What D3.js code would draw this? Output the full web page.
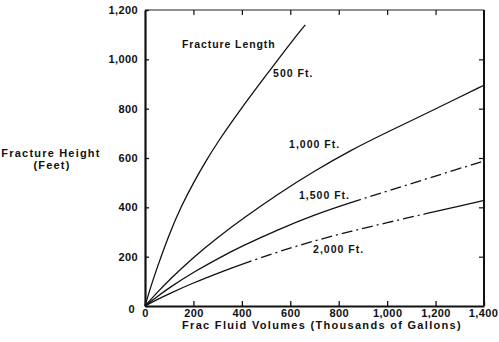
<!DOCTYPE html>
<html><head><meta charset="utf-8">
<script src="https://cdn.jsdelivr.net/npm/d3@7"></script>
<style>
html,body{margin:0;padding:0;background:#fff;}
svg text{font-family:"Liberation Sans",Arial,sans-serif;font-weight:bold;fill:#111;}
</style></head>
<body><svg id="c" width="499" height="342"></svg>
<script>
// ---- data ----
const xTicks = [0, 200, 400, 600, 800, 1000, 1200, 1400];
const yTicks = [0, 200, 400, 600, 800, 1000, 1200];
const seriesNames = ["500 Ft.", "1,000 Ft.", "1,500 Ft.", "2,000 Ft."];
const volumes500 = [0, 25, 50, 100, 150, 200, 250, 300, 400, 500, 600, 662];
const height500  = [0, 82, 155, 292, 405, 500, 585, 665, 805, 935, 1065, 1140];
const volumes = [0, 50, 100, 200, 300, 400, 550, 700, 850, 1000, 1150, 1275, 1400];
const height1000 = [0, 55, 106, 198, 278, 352, 455, 548, 632, 705, 775, 835, 895];
const height1500 = [0, 38, 74, 137, 192, 243, 310, 370, 420, 465, 512, 550, 588];
const height2000 = [0, 26, 50, 94, 133, 170, 220, 265, 303, 338, 372, 400, 428];
// label anchors in data units
const labelVol = [529, 595, 636, 694];
const labelHt  = [928, 640, 434, 215];
// ranges (data units) where the printed line is broken (dash-dot look)
const brokenFrom = [null, null, 880, 430];
const brokenTo   = [null, null, 1400, 1160];

const svg = d3.select("#c");
const x = d3.scaleLinear().domain([0, 1400]).range([145, 484]);
const y = d3.scaleLinear().domain([0, 1200]).range([306, 10]);
const fmt = d3.format(",");

// box
svg.append("line").attr("x1",x(0)).attr("x2",x(1400)).attr("y1",y(1200)).attr("y2",y(1200))
  .attr("stroke","#222").attr("stroke-width",1.2);
svg.append("line").attr("x1",x(1400)).attr("x2",x(1400)).attr("y1",y(1200)).attr("y2",y(0))
  .attr("stroke","#111").attr("stroke-width",2);

// axes
const xAxis = svg.append("g").attr("transform",`translate(0,${y(0)})`)
  .call(d3.axisBottom(x).tickValues(xTicks).tickSize(-5).tickSizeOuter(0).tickFormat(fmt).tickPadding(3));
const yAxis = svg.append("g").attr("transform",`translate(${x(0)},0)`)
  .call(d3.axisLeft(y).tickValues(yTicks).tickSize(-4).tickSizeOuter(0).tickFormat(fmt).tickPadding(7));
const xTop = svg.append("g").attr("transform",`translate(0,${y(1200)})`)
  .call(d3.axisTop(x).tickValues(xTicks.slice(1,-1)).tickSize(-5).tickSizeOuter(0).tickFormat(""));
const yRight = svg.append("g").attr("transform",`translate(${x(1400)},0)`)
  .call(d3.axisRight(y).tickValues(yTicks.slice(1,-1)).tickSize(-5).tickSizeOuter(0).tickFormat(""));
[xAxis, yAxis].forEach(g=>{
  g.select(".domain").attr("stroke","#111").attr("stroke-width",2.2);
  g.selectAll(".tick line").attr("stroke","#111").attr("stroke-width",1.3);
  g.selectAll("text").attr("font-size",11).attr("font-family","Liberation Sans, Arial, sans-serif")
    .attr("fill","#111").attr("letter-spacing",0.4);
});
[xTop, yRight].forEach(g=>{
  g.select(".domain").remove();
  g.selectAll(".tick line").attr("stroke","#111").attr("stroke-width",1.2);
});
yAxis.selectAll(".tick").filter(d=>d===0).select("text").attr("dy","0.6em").attr("dx","-3");
xAxis.selectAll(".tick").filter(d=>d===1400).select("text").attr("dx","-1");

// curves
const series = [
  [volumes500, height500],
  [volumes, height1000],
  [volumes, height1500],
  [volumes, height2000]
];
const defs = svg.append("defs");
const line = d3.line().x(d=>x(d[0])).y(d=>y(d[1])).curve(d3.curveBasis);
series.forEach(([vx, vy], i)=>{
  const pts = vx.map((v,k)=>[v, vy[k]]);
  if (brokenFrom[i] === null) {
    svg.append("path").datum(pts).attr("d",line)
      .attr("fill","none").attr("stroke","#111").attr("stroke-width",1.3);
  } else {
    const a = x(brokenFrom[i]), b = x(brokenTo[i]);
    defs.append("clipPath").attr("id",`out${i}`).selectAll("rect")
      .data([[0,a],[b,499]]).join("rect")
      .attr("x",d=>d[0]).attr("width",d=>Math.max(0,d[1]-d[0])).attr("y",0).attr("height",342);
    defs.append("clipPath").attr("id",`in${i}`).append("rect")
      .attr("x",a).attr("width",b-a).attr("y",0).attr("height",342);
    svg.append("path").datum(pts).attr("d",line).attr("clip-path",`url(#out${i})`)
      .attr("fill","none").attr("stroke","#111").attr("stroke-width",1.3);
    svg.append("path").datum(pts).attr("d",line).attr("clip-path",`url(#in${i})`)
      .attr("fill","none").attr("stroke","#111").attr("stroke-width",1.3)
      .attr("stroke-dasharray","11,4,2,4");
  }
});

// labels
svg.append("text").attr("x",x(153)).attr("y",y(1046)).attr("font-size",10.5)
  .attr("letter-spacing",0.9).text("Fracture Length");
seriesNames.forEach((n,i)=>{
  svg.append("text").attr("x",x(labelVol[i])).attr("y",y(labelHt[i]))
    .attr("font-size",10.5).attr("letter-spacing",1).text(n);
});

// axis titles
svg.append("text").attr("x",322).attr("y",329).attr("text-anchor","middle")
  .attr("font-size",11).attr("letter-spacing",1.3).text("Frac Fluid Volumes (Thousands of Gallons)");
svg.append("text").attr("x",51).attr("y",157).attr("text-anchor","middle")
  .attr("font-size",11).attr("letter-spacing",1.2).text("Fracture Height");
svg.append("text").attr("x",52).attr("y",169).attr("text-anchor","middle")
  .attr("font-size",11).attr("letter-spacing",1.2).text("(Feet)");
</script></body></html>
